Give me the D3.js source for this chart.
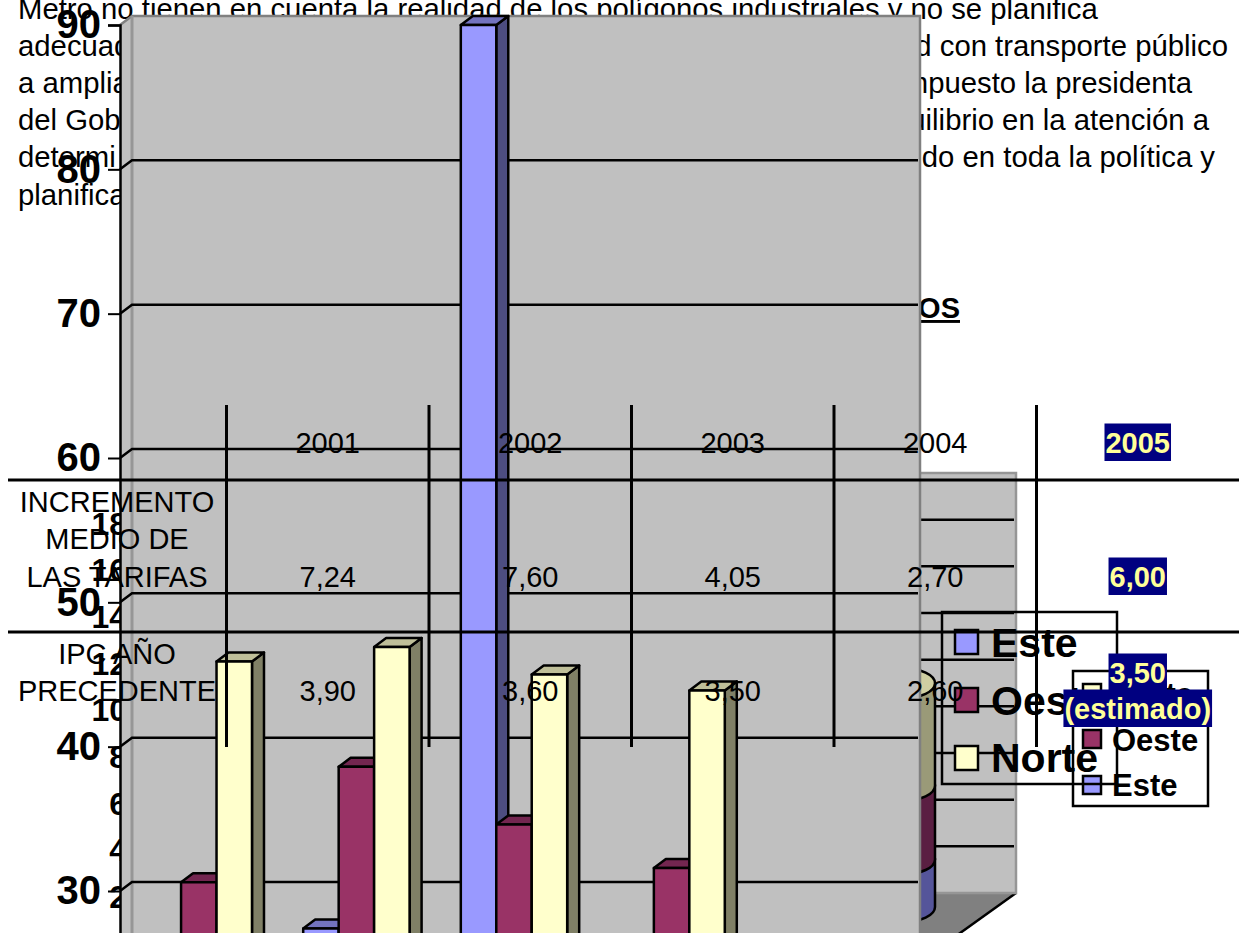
<!DOCTYPE html>
<html>
<head>
<meta charset="utf-8">
<script src="https://cdnjs.cloudflare.com/ajax/libs/d3/7.8.5/d3.min.js"></script>
<style>
  html, body { margin: 0; padding: 0; background: #fff; overflow: hidden; }
  svg { display: block; }
  text { font-family: "Liberation Sans", Arial, sans-serif; }
</style>
</head>
<body>
<div id="chart"></div>
<script>
// Data
var seriesNames = ["Este", "Oeste", "Norte"];
var groupNames = ["1", "2", "3", "4", "5"];
var esteValues = [20.4, 27.4, 90, 20.4];
var oesteValues = [30.6, 38.6, 34.6, 31.6];
var norteValues = [45.9, 46.9, 45, 43.9];
var bigTicks = [30, 40, 50, 60, 70, 80, 90];

var cylinderGroup = ["4"];
var cylinderEste = [2.04];
var cylinderOeste = [3.16];
var cylinderNorte = [4.39];
var smallTicks = [0, 2, 4, 6, 8, 10, 12, 14, 16, 18];

var tableYears = ["2001", "2002", "2003", "2004", "2005"];
var tarifas = ["7,24", "7,60", "4,05", "2,70", "6,00"];
var ipc = ["3,90", "3,60", "3,50", "2,60", "3,50"];
var tarifasLabel = ["INCREMENTO", "MEDIO DE", "LAS TARIFAS"];
var ipcLabel = ["IPC AÑO", "PRECEDENTE"];

var leftText = ["Metro no tienen en cuenta la realidad de los polígonos industriales y no se planifica",
    "adecuad", "a amplia", "del Gob", "determi", "planifica"];
var rightText = ["", "d con transporte público", "mpuesto la presidenta", "uilibrio en la atención a", "do en toda la política y", ""];

var colors = {
    Este: { front: "#9999ff", side: "#4d4d80", top: "#7373bf", cyl: "#55559a" },
    Oeste: { front: "#993366", side: "#4d1a33", top: "#732650", cyl: "#5a1f42" },
    Norte: { front: "#ffffcc", side: "#808066", top: "#bfbf99", cyl: "#9a9a78" }
};
var wallGrey = "#c0c0c0", edgeGrey = "#808080";

var width = 1239, height = 933;
var svg = d3.select("#chart").append("svg")
    .attr("width", width)
    .attr("height", height);

// Text behind the charts
var para = svg.append("g").style("font-size", "29.3px").attr("fill", "#000");
leftText.forEach(function(t, i) {
    para.append("text").attr("x", 18).attr("y", 19 + i * 37.1).text(t);
    para.append("text").attr("x", [0, 1228, 1192, 1209, 1215, 0][i]).attr("y", 19 + i * 37.1)
        .attr("text-anchor", "end").text(rightText[i]);
});
svg.append("text")
    .attr("x", 960).attr("y", 318)
    .attr("text-anchor", "end")
    .style("font-size", "29px").style("font-weight", "bold")
    .style("text-decoration", "underline")
    .text("OS");

// Small chart, mostly covered by the big one
var small = svg.append("g");
var yBack = d3.scaleLinear().domain([0, 18]).range([893, 473]);
var depthX = 67, depthY = 48;

small.append("polygon")
    .attr("points", [[130, yBack(0)], [1016, yBack(0)], [1016 - depthX, yBack(0) + depthY], [130, yBack(0) + depthY]].join(" "))
    .attr("fill", edgeGrey);
small.append("line")
    .attr("x1", 1016).attr("y1", yBack(0)).attr("x2", 1016 - depthX).attr("y2", yBack(0) + depthY)
    .attr("stroke", "#000").attr("stroke-width", 2.5);
small.append("rect")
    .attr("x", 130).attr("y", yBack(18))
    .attr("width", 1016 - 130).attr("height", yBack(0) - yBack(18))
    .attr("fill", wallGrey).attr("stroke", "#969696").attr("stroke-width", 2.5);
small.selectAll("line.grid")
    .data(smallTicks.filter(function(d) { return d > 0 && d < 18; }))
    .enter().append("line")
    .attr("class", "grid")
    .attr("x1", 130).attr("x2", 1014)
    .attr("y1", function(d) { return yBack(d); })
    .attr("y2", function(d) { return yBack(d); })
    .attr("stroke", "#000").attr("stroke-width", 2.5);

var ySmallFront = d3.scaleLinear().domain([0, 18]).range([893 + depthY + 3, 473 + depthY + 3]);
var smallAxis = small.append("g")
    .attr("transform", "translate(141,0)")
    .call(d3.axisLeft(ySmallFront).tickValues(smallTicks).tickSize(8).tickPadding(6));
smallAxis.select(".domain").remove();
smallAxis.selectAll("text")
    .style("font-size", "32px").style("font-weight", "bold")
    .style("font-family", '"Liberation Sans", Arial, sans-serif')
    .attr("fill", "#000");

// Stacked cylinders
var xCyl = d3.scaleBand().domain(cylinderGroup).range([871, 935]);
var cylRows = cylinderGroup.map(function(c, i) {
    return { group: c, Este: cylinderEste[i], Oeste: cylinderOeste[i], Norte: cylinderNorte[i] };
});
var cylStack = d3.stack().keys(seriesNames)(cylRows);
var cylRy = 15, cylShift = 14;
var rx = xCyl.bandwidth() / 2;
cylStack.forEach(function(layer) {
    layer.forEach(function(d) {
        var left = xCyl(d.data.group), right = left + xCyl.bandwidth();
        var y0 = yBack(d[0]) + cylShift, y1 = yBack(d[1]) + cylShift;
        small.append("path")
            .attr("d", "M" + left + "," + y1 + " L" + right + "," + y1 + " L" + right + "," + y0 +
                " A" + rx + "," + cylRy + " 0 0 1 " + left + "," + y0 + " Z")
            .attr("fill", colors[layer.key].cyl)
            .attr("stroke", "#000").attr("stroke-width", 2.5);
    });
});
var topLayer = cylStack[cylStack.length - 1];
topLayer.forEach(function(d) {
    small.append("ellipse")
        .attr("cx", xCyl(d.data.group) + rx)
        .attr("cy", yBack(d[1]) + cylShift)
        .attr("rx", rx).attr("ry", cylRy)
        .attr("fill", "#cfcfa2").attr("stroke", "#000").attr("stroke-width", 2.5);
});

// Small legend, no fill
small.append("rect")
    .attr("x", 1073).attr("y", 671).attr("width", 135).attr("height", 135)
    .attr("fill", "none").attr("stroke", "#000").attr("stroke-width", 2.5);
seriesNames.slice().reverse().forEach(function(s, i) {
    small.append("rect")
        .attr("x", 1083).attr("y", 684 + i * 46).attr("width", 18).attr("height", 18)
        .attr("fill", colors[s].front).attr("stroke", "#000").attr("stroke-width", 2.5);
    small.append("text")
        .attr("x", 1112).attr("y", 705 + i * 45.5)
        .style("font-size", "31px").style("font-weight", "bold")
        .text(s);
});

// Big chart
var big = svg.append("g");
var wallLeft = 120, wallRight = 908, dx = 12, dy = 9;
var y = d3.scaleLinear().domain([0, 90]).range([1324, 25]);
var x0 = d3.scaleBand().domain(groupNames).range([wallLeft, wallRight]).paddingInner(0.325).paddingOuter(0.1625);
var x1 = d3.scaleBand().domain(seriesNames).range([0, x0.bandwidth()]);

// Walls
big.append("polygon")
    .attr("points", [[wallLeft, y(90)], [wallLeft + dx, y(90) - dy], [wallLeft + dx, height + 5], [wallLeft, height + 5]].join(" "))
    .attr("fill", wallGrey);
big.append("rect")
    .attr("x", wallLeft + dx).attr("y", y(90) - dy)
    .attr("width", wallRight - wallLeft).attr("height", height)
    .attr("fill", wallGrey);
big.append("path")
    .attr("d", "M" + wallLeft + "," + y(90) + " L" + (wallLeft + dx) + "," + (y(90) - dy) +
        " L" + (wallRight + dx) + "," + (y(90) - dy) + " L" + (wallRight + dx) + "," + (height + 5))
    .attr("fill", "none").attr("stroke", edgeGrey).attr("stroke-width", 2.5);
big.append("line")
    .attr("x1", wallLeft + dx).attr("x2", wallLeft + dx)
    .attr("y1", y(90) - dy).attr("y2", height + 5)
    .attr("stroke", "#969696").attr("stroke-width", 3);

// Gridlines
big.selectAll("path.grid")
    .data(bigTicks.filter(function(d) { return d < 90; }))
    .enter().append("path")
    .attr("class", "grid")
    .attr("d", function(d) {
        return "M" + wallLeft + "," + y(d) + " L" + (wallLeft + dx) + "," + (y(d) - dy) + " L" + (wallRight + dx - 2) + "," + (y(d) - dy);
    })
    .attr("fill", "none").attr("stroke", "#000").attr("stroke-width", 2.5);

// Axis
var bigAxis = big.append("g")
    .attr("transform", "translate(" + wallLeft + ",0)")
    .call(d3.axisLeft(y).tickValues(bigTicks).tickSize(12).tickPadding(7));
bigAxis.select(".domain").attr("stroke-width", 2.5);
bigAxis.selectAll("line").attr("stroke-width", 2);
bigAxis.selectAll("text")
    .style("font-size", "40px").style("font-weight", "bold")
    .style("font-family", '"Liberation Sans", Arial, sans-serif')
    .attr("fill", "#000");

// Bars
var bigValues = { Este: esteValues, Oeste: oesteValues, Norte: norteValues };
var barData = [];
groupNames.slice(0, esteValues.length).forEach(function(g, i) {
    seriesNames.forEach(function(s) {
        barData.push({ group: g, series: s, value: bigValues[s][i] });
    });
});
var bars = big.selectAll("g.bar")
    .data(barData)
    .enter().append("g")
    .attr("class", "bar")
    .attr("stroke", "#000").attr("stroke-width", 2.5).attr("stroke-linejoin", "round");
function barLeft(d) { return x0(d.group) + x1(d.series); }
bars.append("polygon")
    .attr("points", function(d) {
        var r = barLeft(d) + x1.bandwidth(), t = y(d.value), b = y(0);
        return [[r, t], [r + dx, t - dy], [r + dx, b - dy], [r, b]].join(" ");
    })
    .attr("fill", function(d) { return colors[d.series].side; });
bars.append("polygon")
    .attr("points", function(d) {
        var l = barLeft(d), r = l + x1.bandwidth(), t = y(d.value);
        return [[l, t], [l + dx, t - dy], [r + dx, t - dy], [r, t]].join(" ");
    })
    .attr("fill", function(d) { return colors[d.series].top; });
bars.append("rect")
    .attr("x", barLeft)
    .attr("y", function(d) { return y(d.value); })
    .attr("width", x1.bandwidth())
    .attr("height", function(d) { return y(0) - y(d.value); })
    .attr("fill", function(d) { return colors[d.series].front; });

// Big legend, no fill
big.append("rect")
    .attr("x", 942).attr("y", 612).attr("width", 175).attr("height", 172)
    .attr("fill", "none").attr("stroke", "#000").attr("stroke-width", 2.5);
seriesNames.forEach(function(s, i) {
    big.append("rect")
        .attr("x", 955).attr("y", 630 + i * 58).attr("width", 23).attr("height", 24)
        .attr("fill", colors[s].front).attr("stroke", "#000").attr("stroke-width", 2.5);
    big.append("text")
        .attr("x", 991).attr("y", 657 + i * 57.5)
        .style("font-size", "41px").style("font-weight", "bold")
        .text(s);
});

// Table on top of everything
var table = svg.append("g").style("font-size", "29px");
var col = d3.scaleBand().domain(tableYears).range([226.5, 1239]);
var rows = [
    { values: tableYears, base: 453 },
    { values: tarifas, base: 587 },
    { values: ipc, base: 701 }
];
table.selectAll("line.v")
    .data(tableYears)
    .enter().append("line")
    .attr("class", "v")
    .attr("x1", function(d) { return col(d); })
    .attr("x2", function(d) { return col(d); })
    .attr("y1", 405).attr("y2", 747)
    .attr("stroke", "#000").attr("stroke-width", 3);
table.selectAll("line.h")
    .data([480, 632])
    .enter().append("line")
    .attr("class", "h")
    .attr("x1", 8).attr("x2", width)
    .attr("y1", function(d) { return d; })
    .attr("y2", function(d) { return d; })
    .attr("stroke", "#000").attr("stroke-width", 3);

rows.forEach(function(row) {
    row.values.slice(0, 4).forEach(function(v, i) {
        table.append("text")
            .attr("x", col(tableYears[i]) + col.bandwidth() / 2)
            .attr("y", row.base)
            .attr("text-anchor", "middle")
            .text(v);
    });
});
tarifasLabel.forEach(function(t, i) {
    table.append("text").attr("x", 117).attr("y", 512 + i * 37.3).attr("text-anchor", "middle").text(t);
});
ipcLabel.forEach(function(t, i) {
    table.append("text").attr("x", 117).attr("y", 664 + i * 37).attr("text-anchor", "middle").text(t);
});

// Highlighted 2005 column
var lastCol = col("2005") + col.bandwidth() / 2;
function highlighted(t, base) {
    var g = table.append("g");
    var label = g.append("text")
        .attr("x", lastCol).attr("y", base)
        .attr("text-anchor", "middle")
        .attr("fill", "#ffff99")
        .style("font-weight", "bold")
        .text(t);
    var w = label.node().getComputedTextLength();
    g.insert("rect", "text")
        .attr("x", lastCol - w / 2 - 1).attr("y", base - 29.5)
        .attr("width", w + 2).attr("height", 37.5)
        .attr("fill", "#000080");
}
highlighted(tableYears[4], 453);
highlighted(tarifas[4], 587);
highlighted(ipc[4], 683);
highlighted("(estimado)", 719);
</script>
</body>
</html>
